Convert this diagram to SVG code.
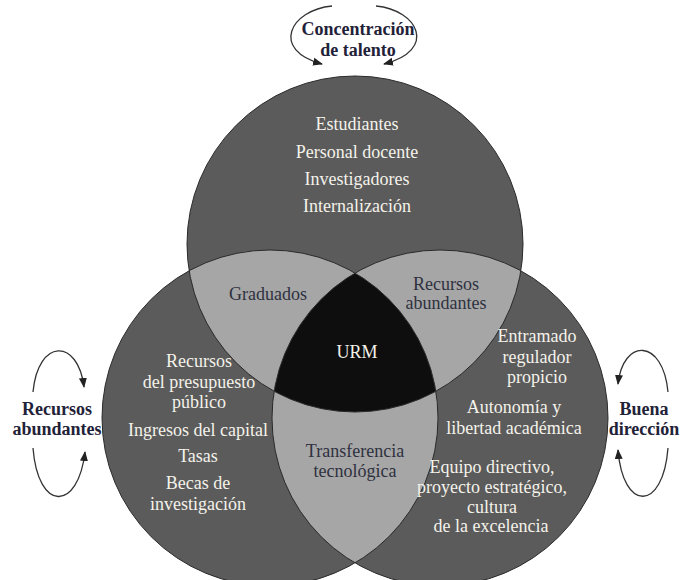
<svg xmlns="http://www.w3.org/2000/svg" width="680" height="580" viewBox="0 0 680 580">
<style>
.dark{fill:#5b5b5b}
.light{fill:#a6a6a6}
.core{fill:#0e0e0e}
.outline{fill:none;stroke:#2a2a2a;stroke-width:1}
.t{font-family:"Liberation Serif",serif;font-size:18px;text-anchor:middle}
.w{fill:#f4f2ea}
.d{fill:#2e3140}
.ext{font-family:"Liberation Serif",serif;font-size:18px;font-weight:bold;text-anchor:middle;fill:#1f2238}
.arc{fill:none;stroke:#333;stroke-width:1.3}
</style>
<defs>
<marker id="ah" markerWidth="10" markerHeight="10" refX="9" refY="5" orient="auto" markerUnits="userSpaceOnUse" viewBox="0 0 10 10">
<path d="M0,1 L10,5 L0,9 Z" fill="#222"/>
</marker>
<clipPath id="cTop"><circle cx="355" cy="244" r="168"/></clipPath>
<clipPath id="cLeft"><circle cx="270" cy="418" r="168"/></clipPath>
<clipPath id="cRight"><circle cx="440" cy="418" r="168"/></clipPath>
</defs>
<rect width="680" height="580" fill="#ffffff"/>
<g id="circles">
<circle class="dark" cx="355" cy="244" r="168"/>
<circle class="dark" cx="270" cy="418" r="168"/>
<circle class="dark" cx="440" cy="418" r="168"/>
<circle class="light" cx="270" cy="418" r="168" clip-path="url(#cTop)"/>
<circle class="light" cx="440" cy="418" r="168" clip-path="url(#cTop)"/>
<circle class="light" cx="440" cy="418" r="168" clip-path="url(#cLeft)"/>
<g clip-path="url(#cLeft)"><circle class="core" cx="355" cy="244" r="168" clip-path="url(#cRight)"/></g>
<circle class="outline" cx="355" cy="244" r="168"/>
<circle class="outline" cx="270" cy="418" r="168"/>
<circle class="outline" cx="440" cy="418" r="168"/>
</g>
<g id="top-node">
<text class="t w" x="357" y="130">Estudiantes</text>
<text class="t w" x="357" y="158">Personal docente</text>
<text class="t w" x="357" y="185">Investigadores</text>
<text class="t w" x="357" y="212">Internalización</text>
</g>
<g id="left-node">
<text class="t w" x="199" y="367">Recursos</text>
<text class="t w" x="199" y="388">del presupuesto</text>
<text class="t w" x="199" y="408">público</text>
<text class="t w" x="198" y="436">Ingresos del capital</text>
<text class="t w" x="198" y="462">Tasas</text>
<text class="t w" x="198" y="489">Becas de</text>
<text class="t w" x="198" y="510">investigación</text>
</g>
<g id="right-node">
<text class="t w" x="537" y="342">Entramado</text>
<text class="t w" x="537" y="363">regulador</text>
<text class="t w" x="537" y="383">propicio</text>
<text class="t w" x="514" y="413">Autonomía y</text>
<text class="t w" x="514" y="434">libertad académica</text>
<text class="t w" x="492" y="473">Equipo directivo,</text>
<text class="t w" x="492" y="493">proyecto estratégico,</text>
<text class="t w" x="492" y="513">cultura</text>
<text class="t w" x="491" y="532">de la excelencia</text>
</g>
<g id="graduados"><text class="t d" x="268" y="300">Graduados</text></g>
<g id="recursos-abundantes-inner">
<text class="t d" x="446" y="290">Recursos</text>
<text class="t d" x="446" y="309">abundantes</text>
</g>
<g id="transferencia">
<text class="t d" x="355" y="457">Transferencia</text>
<text class="t d" x="355" y="477">tecnológica</text>
</g>
<g id="urm"><text class="t w" x="357" y="358" font-size="19">URM</text></g>
<g id="label-top">
<text class="ext" x="358" y="35" font-size="19">Concentración</text>
<text class="ext" x="358" y="56" font-size="19">de talento</text>
</g>
<g id="label-left">
<text class="ext" x="57" y="415">Recursos</text>
<text class="ext" x="57" y="435">abundantes</text>
</g>
<g id="label-right">
<text class="ext" x="644" y="415">Buena</text>
<text class="ext" x="644" y="435">dirección</text>
</g>
<g id="connectors">
<path class="arc" d="M332,6 C290,10 270,50 322,64" marker-end="url(#ah)"/>
<path class="arc" d="M376,6 C418,10 438,50 384,64" marker-end="url(#ah)"/>
<path class="arc" d="M33,392 C38,338 78,338 84,387" marker-end="url(#ah)"/>
<path class="arc" d="M33,448 C38,512 78,512 85,452" marker-end="url(#ah)"/>
<path class="arc" d="M668,392 C663,338 623,338 618,384" marker-end="url(#ah)"/>
<path class="arc" d="M668,448 C663,512 623,512 618,450" marker-end="url(#ah)"/>
</g>
</svg>
